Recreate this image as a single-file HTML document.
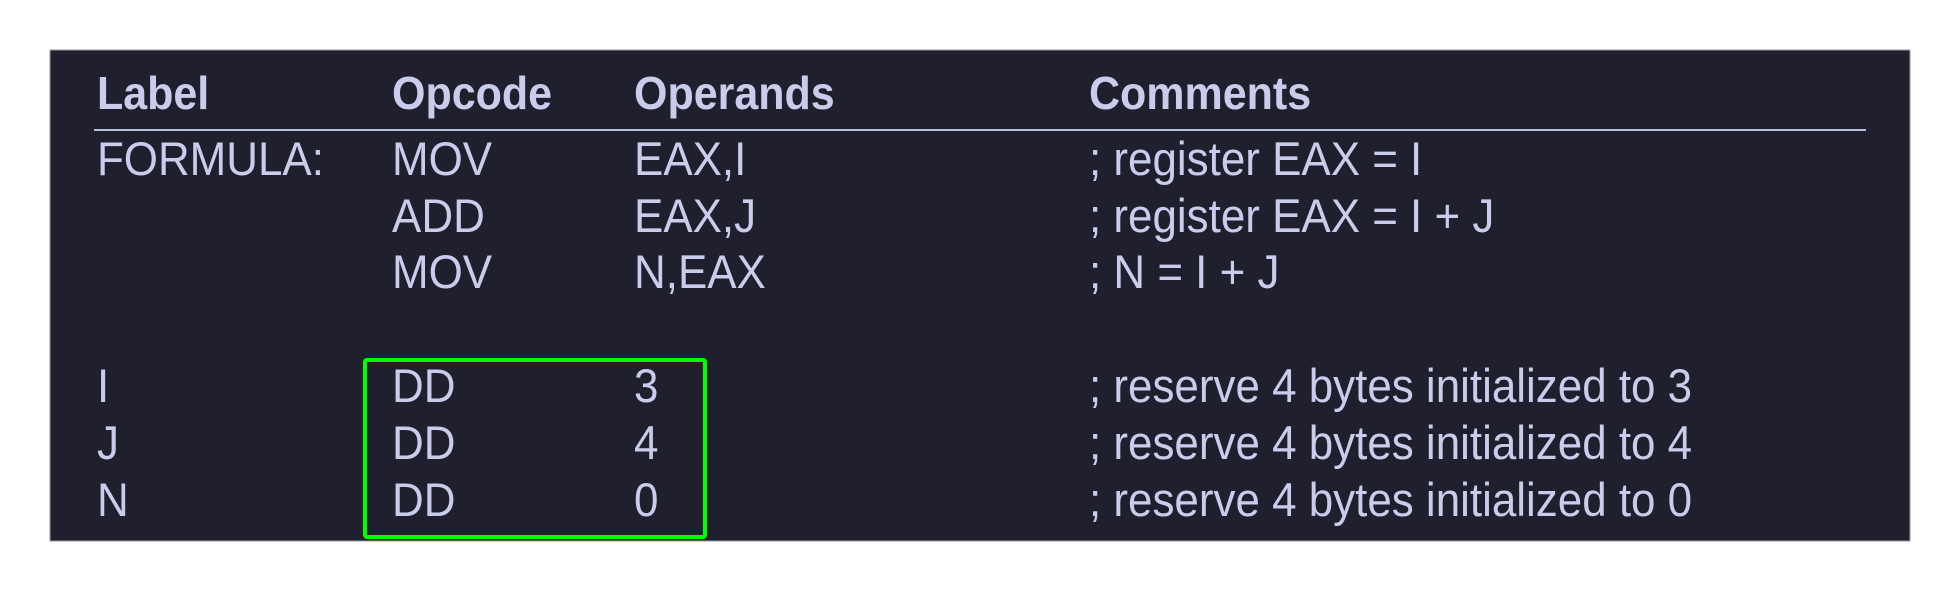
<!DOCTYPE html>
<html><head><meta charset="utf-8"><style>
html,body{margin:0;padding:0;background:#fff;width:1960px;height:591px;overflow:hidden}
svg{display:block}
text{font-family:"Liberation Sans",Arial,sans-serif;fill:#c9cdeb;font-size:47px}
.h{font-weight:bold;font-size:46px}
</style></head><body>
<svg width="1960" height="591" viewBox="0 0 1960 591">
<rect x="50" y="50" width="1860" height="491" fill="#1f1f2e" stroke="#9a9aa8" stroke-width="1"/>
<line x1="94" y1="130" x2="1866" y2="130" stroke="#b8bedf" stroke-width="2"/>
<g transform="scale(0.935,1)">
<text class="h" x="103.7" y="109">Label</text>
<text class="h" x="419.3" y="109">Opcode</text>
<text class="h" x="678.1" y="109">Operands</text>
<text class="h" x="1164.7" y="109">Comments</text>
<text x="103.7" y="175">FORMULA:</text>
<text x="419.3" y="175">MOV</text>
<text x="678.1" y="175">EAX,I</text>
<text x="1164.7" y="175">; register EAX = I</text>
<text x="419.3" y="232">ADD</text>
<text x="678.1" y="232">EAX,J</text>
<text x="1164.7" y="232">; register EAX = I + J</text>
<text x="419.3" y="288">MOV</text>
<text x="678.1" y="288">N,EAX</text>
<text x="1164.7" y="288">; N = I + J</text>
<text x="103.7" y="402">I</text>
<text x="419.3" y="402">DD</text>
<text x="678.1" y="402">3</text>
<text x="1164.7" y="402">; reserve 4 bytes initialized to 3</text>
<text x="103.7" y="459">J</text>
<text x="419.3" y="459">DD</text>
<text x="678.1" y="459">4</text>
<text x="1164.7" y="459">; reserve 4 bytes initialized to 4</text>
<text x="103.7" y="516">N</text>
<text x="419.3" y="516">DD</text>
<text x="678.1" y="516">0</text>
<text x="1164.7" y="516">; reserve 4 bytes initialized to 0</text>
</g>
<rect x="365" y="360" width="340" height="177" fill="none" stroke="#00ff00" stroke-width="4" rx="2"/>
</svg>
</body></html>
